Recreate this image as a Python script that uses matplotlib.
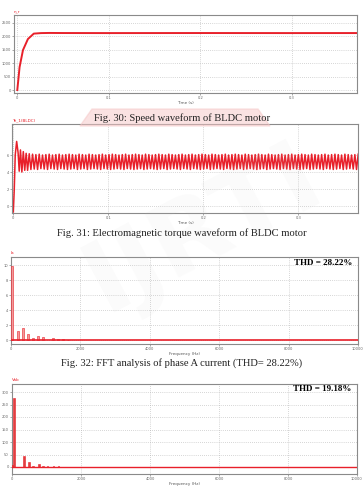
import numpy as np
import matplotlib.pyplot as plt

W, H = 364, 488

# speed waveform (rpm)
speed_t = [0, 0.0025, 0.0062, 0.0116, 0.018, 0.026, 0.035, 0.05, 0.1, 0.2, 0.3, 0.371]
speed_rpm = [0, 850, 1480, 1890, 2090, 2110, 2115, 2112, 2110, 2112, 2110, 2111]
speed_ticks = [0, 500, 1000, 1500, 2000, 2500]

# torque waveform: start-up transient, then ripple peaks/troughs per cycle
torque_t0 = [0, 0.001, 0.002, 0.0035, 0.005, 0.0062, 0.0075, 0.009, 0.0105, 0.012, 0.0135]
torque_v0 = [-0.7, 2.0, 6.0, 7.6, 6.3, 4.1, 6.6, 4.0, 6.4, 4.2, 6.2]
ripple_hi = [6.15, 6.10, 6.05, 6.10, 6.00, 6.05, 6.10, 6.00, 6.05, 6.10,
             6.00, 6.05, 6.10, 6.05, 6.00, 6.10, 6.05, 6.00, 6.10, 6.05,
             6.00, 6.05, 6.10, 6.00, 6.05, 6.10, 6.05, 6.00, 6.05, 6.10,
             6.00, 6.05, 6.10, 6.05, 6.00, 6.10, 6.05, 6.00, 6.05, 6.10,
             6.05, 6.00, 6.10, 6.05, 6.00, 6.05, 6.10, 6.00, 6.05, 6.10,
             6.00, 6.05, 6.10, 6.05, 6.00, 6.10, 6.05, 6.00, 6.05, 6.10,
             6.00, 6.05, 6.10, 6.05, 6.00, 6.10, 6.05, 6.00, 6.05, 6.10,
             6.05, 6.00, 6.10, 6.05, 6.00, 6.05, 6.10, 6.00, 6.05, 6.10,
             6.00, 6.05, 6.10, 6.05, 6.00, 6.10, 6.05, 6.00, 6.05, 6.10,
             6.00, 6.05, 6.10, 6.05, 6.00, 6.10, 6.05, 6.00, 6.05, 6.10]
ripple_lo = [4.20, 4.30, 4.35, 4.30, 4.40, 4.35, 4.30, 4.40, 4.35, 4.30,
             4.40, 4.35, 4.30, 4.35, 4.40, 4.30, 4.35, 4.40, 4.30, 4.35,
             4.40, 4.35, 4.30, 4.40, 4.35, 4.30, 4.35, 4.40, 4.35, 4.30,
             4.40, 4.35, 4.30, 4.35, 4.40, 4.30, 4.35, 4.40, 4.35, 4.30,
             4.35, 4.40, 4.30, 4.35, 4.40, 4.35, 4.30, 4.40, 4.35, 4.30,
             4.40, 4.35, 4.30, 4.35, 4.40, 4.30, 4.35, 4.40, 4.35, 4.30,
             4.40, 4.35, 4.30, 4.35, 4.40, 4.30, 4.35, 4.40, 4.35, 4.30,
             4.35, 4.40, 4.30, 4.35, 4.40, 4.35, 4.30, 4.40, 4.35, 4.30,
             4.40, 4.35, 4.30, 4.35, 4.40, 4.30, 4.35, 4.40, 4.35, 4.30,
             4.40, 4.35, 4.30, 4.35, 4.40, 4.30, 4.35, 4.40, 4.35, 4.30]
torque_ticks = [0, 2, 4, 6]
time_ticks = [0, 0.1, 0.2, 0.3]
time_labels = ['0', '0.1', '0.2', '0.3']

# FFT spectra
ia_freq = [0, 40, 200, 340, 480, 640, 770, 910, 1200, 1350, 1500, 1640]
ia_mag = [0.3, 9.9, 1.3, 1.7, 0.8, 0.3, 0.6, 0.4, 0.25, 0.2, 0.15, 0.1]
ia_ticks = [0, 2, 4, 6, 8, 10]
vab_freq = [0, 58, 340, 493, 610, 783, 900, 1030, 1200, 1350]
vab_mag = [10, 276, 44, 20, 5, 12, 4, 5, 3, 3]
vab_ticks = [0, 50, 100, 150, 200, 250, 300]
freq_ticks = [0, 2000, 4000, 6000, 8000, 10000]

RED = '#e8202a'
fig = plt.figure(figsize=(W / 100, H / 100), dpi=100)


def box(x0, y0, x1, y1):
    return [x0 / W, 1 - y1 / H, (x1 - x0) / W, (y1 - y0) / H]


def style(ax, xlabel, tag):
    for s in ax.spines.values():
        s.set_color('#8a8a8a')
        s.set_linewidth(0.8)
    ax.tick_params(labelsize=2.6, colors='#666666', length=1.2, width=0.4, pad=1)
    ax.grid(True, color='#b0b0b0', linestyle=(0, (1, 2)), linewidth=0.5)
    ax.set_axisbelow(True)
    ax.set_xlabel(xlabel, fontsize=3, color='#555555', labelpad=1)
    ax.text(0.0, 1.02, tag, transform=ax.transAxes, fontsize=3, color=RED,
            va='bottom', ha='left')


def caption(y, text):
    fig.text(0.5, 1 - y / H, text, ha='center', va='center', fontsize=7.6,
             family='Liberation Serif', color='#222222')


# faint watermark
fig.text(0.56, 0.53, 'IJRTI', fontsize=72, color='#c8c8c8', alpha=0.07,
         rotation=28, ha='center', va='center', family='DejaVu Sans',
         fontweight='bold', zorder=0)
fig.patches.append(plt.Polygon([[80 / W, 1 - 126 / H], [92 / W, 1 - 109 / H],
                                [258 / W, 1 - 109 / H], [270 / W, 1 - 126 / H]],
                               closed=True, transform=fig.transFigure,
                               color='#f6c6c6', alpha=0.5, zorder=0))

# Fig. 30 speed
ax1 = fig.add_axes(box(14, 15, 357, 93))
ax1.plot(speed_t, speed_rpm, color=RED, lw=1.4)
ax1.set_xlim(-0.0036, 0.371)
ax1.set_ylim(-110, 2780)
ax1.set_yticks(speed_ticks)
ax1.set_xticks(time_ticks, time_labels)
style(ax1, 'Time (s)', 'n_r')
caption(118, 'Fig. 30: Speed waveform of BLDC motor')

# Fig. 31 torque
ax2 = fig.add_axes(box(12, 124, 358, 213))
n = len(ripple_hi)
rt = np.linspace(0.015, 0.363, 2 * n)
rv = np.empty(2 * n)
rv[0::2] = ripple_lo
rv[1::2] = ripple_hi
ax2.plot(list(torque_t0) + list(rt), list(torque_v0) + list(rv), color=RED, lw=1.1)
ax2.set_xlim(-0.0014, 0.3628)
ax2.set_ylim(-0.82, 9.65)
ax2.set_yticks(torque_ticks)
ax2.set_xticks(time_ticks, time_labels)
style(ax2, 'Time (s)', 'Te_1(BLDC)')
caption(233, 'Fig. 31: Electromagnetic torque waveform of BLDC motor')

# Fig. 32 FFT of Ia
ax3 = fig.add_axes(box(11, 257, 358, 344))
ax3.bar(ia_freq, ia_mag, width=55, color='#f29a9a', edgecolor=RED, lw=0.4, zorder=3)
ax3.axhline(0, color=RED, lw=1.2, zorder=4)
ax3.set_xlim(0, 10000)
ax3.set_ylim(-0.5, 11.1)
ax3.set_yticks(ia_ticks)
ax3.set_xticks(freq_ticks)
style(ax3, 'Frequency (Hz)', 'Ia')
ax3.text(0.985, 0.93, 'THD = 28.22%', transform=ax3.transAxes, ha='right',
         va='center', fontsize=6.5, fontweight='bold', family='Liberation Serif')
caption(363, 'Fig. 32: FFT analysis of phase A current (THD= 28.22%)')

# FFT of Vab
ax4 = fig.add_axes(box(12, 384, 357, 474))
ax4.bar(vab_freq, vab_mag, width=45, color='#e04040', edgecolor=RED, lw=0.4, zorder=3)
ax4.axhline(0, color=RED, lw=1.0, zorder=4)
ax4.set_xlim(0, 10000)
ax4.set_ylim(-28, 332)
ax4.set_yticks(vab_ticks)
ax4.set_xticks(freq_ticks)
style(ax4, 'Frequency (Hz)', 'Vab')
ax4.text(0.985, 0.94, 'THD = 19.18%', transform=ax4.transAxes, ha='right',
         va='center', fontsize=6.5, fontweight='bold', family='Liberation Serif')

fig.savefig('out.png', dpi=100)
